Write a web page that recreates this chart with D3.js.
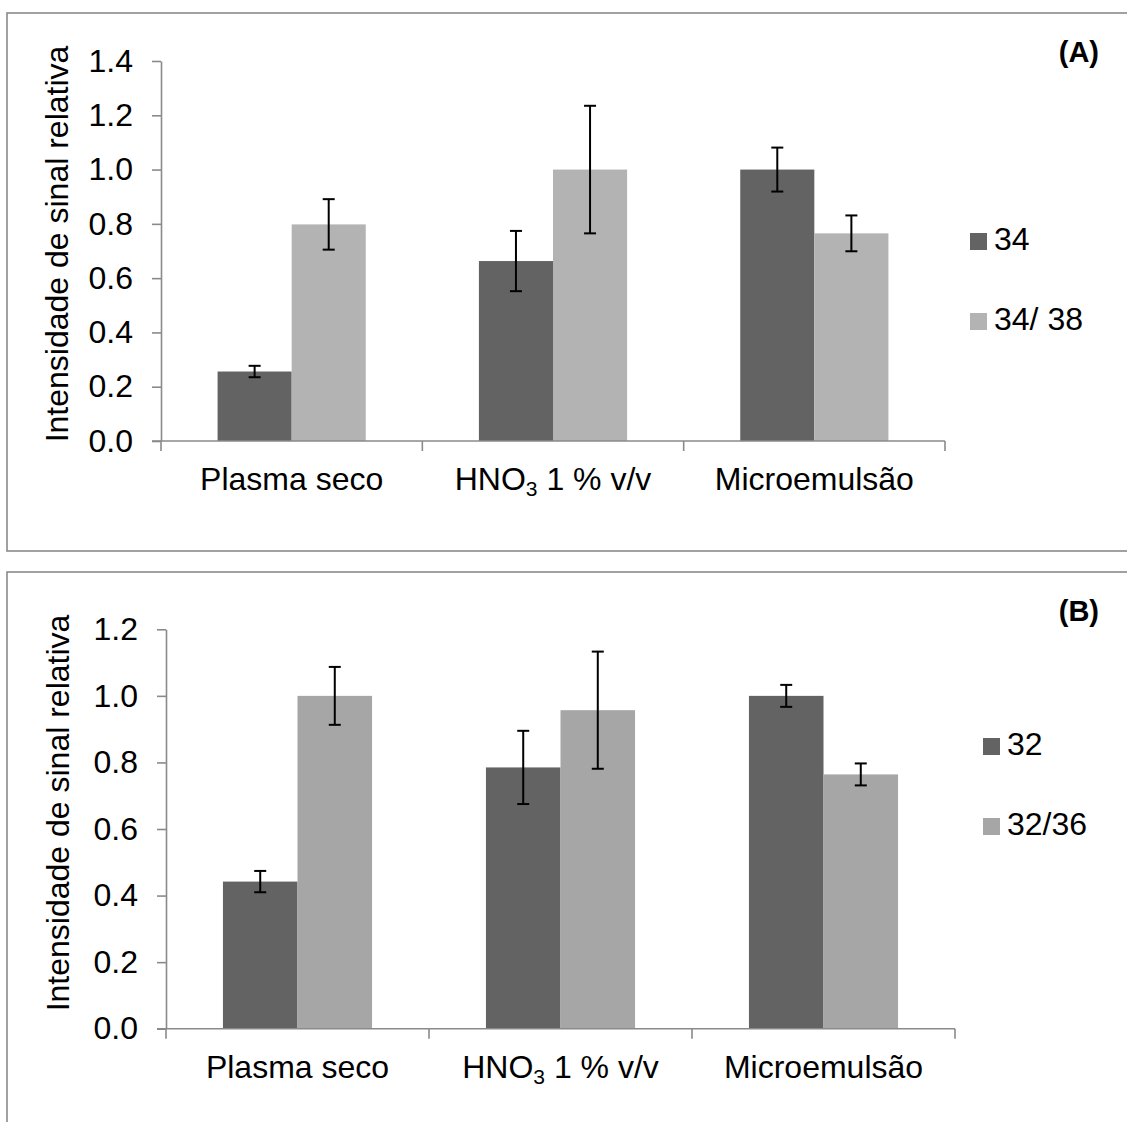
<!DOCTYPE html>
<html>
<head>
<meta charset="utf-8">
<script src="https://cdn.jsdelivr.net/npm/d3@7"></script>
<style>
  html, body { margin: 0; padding: 0; background: #fff; }
  svg { display: block; font-family: "Liberation Sans", Arial, sans-serif; }
</style>
</head>
<body>
<svg id="chart" width="1127" height="1122"></svg>
<script>
// Categories (x axis)
const categories = ["Plasma seco", "HNO3 1 % v/v", "Microemulsão"];

// Panel A: series 34 and 34/38
const seriesA = ["34", "34/ 38"];
const valuesA34 = [0.256, 0.663, 1.000];
const errA34 = [0.021, 0.111, 0.081];
const valuesA3438 = [0.798, 1.000, 0.765];
const errA3438 = [0.093, 0.235, 0.066];
const ticksA = [0.0, 0.2, 0.4, 0.6, 0.8, 1.0, 1.2, 1.4];

// Panel B: series 32 and 32/36
const seriesB = ["32", "32/36"];
const valuesB32 = [0.442, 0.785, 1.000];
const errB32 = [0.032, 0.110, 0.033];
const valuesB3236 = [1.000, 0.957, 0.764];
const errB3236 = [0.087, 0.176, 0.033];
const ticksB = [0.0, 0.2, 0.4, 0.6, 0.8, 1.0, 1.2];

const svg = d3.select("#chart");
const AXIS = "#8a8a8a";
const FONT = 32;

function drawPanel(cfg) {
  const g = svg.append("g");

  // panel frame
  g.append("rect")
    .attr("x", cfg.frame[0]).attr("y", cfg.frame[1])
    .attr("width", cfg.frame[2]).attr("height", cfg.frame[3])
    .attr("fill", "none").attr("stroke", AXIS).attr("stroke-width", 1.6);

  const y = d3.scaleLinear().domain([0, cfg.yMax]).range(cfg.yRange);
  const x = d3.scaleBand().domain(categories).range(cfg.xRange).padding(0);
  const inner = d3.scaleBand().domain(cfg.series)
    .range([x.bandwidth() * 0.2165, x.bandwidth() * 0.7835]).padding(0);

  // y axis
  const yAxis = d3.axisLeft(y).tickValues(cfg.ticks).tickFormat(d3.format(".1f"))
    .tickSize(9).tickSizeOuter(0).tickPadding(19);
  const ya = g.append("g").attr("transform", `translate(${cfg.xRange[0]},0)`).call(yAxis);
  ya.select(".domain").attr("stroke", AXIS).attr("stroke-width", 1.6);
  ya.selectAll(".tick line").attr("stroke", AXIS).attr("stroke-width", 1.6);
  ya.selectAll(".tick text").attr("font-size", FONT).attr("fill", "#000")
    .attr("font-family", "Liberation Sans, Arial, sans-serif");

  // bars
  const rows = categories.map((c, i) => ({
    cat: c,
    items: cfg.series.map((s, j) => ({ s, v: cfg.values[j][i], e: cfg.errors[j][i], color: cfg.colors[j] }))
  }));
  const grp = g.selectAll(".cat").data(rows).join("g")
    .attr("transform", d => `translate(${x(d.cat)},0)`);
  grp.selectAll("rect").data(d => d.items).join("rect")
    .attr("x", d => inner(d.s)).attr("width", inner.bandwidth())
    .attr("y", d => y(d.v)).attr("height", d => y(0) - y(d.v))
    .attr("fill", d => d.color);

  // error bars
  const eb = grp.selectAll(".err").data(d => d.items).join("g")
    .attr("transform", d => `translate(${inner(d.s) + inner.bandwidth() / 2},0)`)
    .attr("stroke", "#000").attr("stroke-width", 2);
  eb.append("line").attr("y1", d => y(d.v + d.e)).attr("y2", d => y(d.v - d.e));
  eb.append("line").attr("x1", -6).attr("x2", 6).attr("y1", d => y(d.v + d.e)).attr("y2", d => y(d.v + d.e));
  eb.append("line").attr("x1", -6).attr("x2", 6).attr("y1", d => y(d.v - d.e)).attr("y2", d => y(d.v - d.e));

  // x axis line with category separators
  const x0 = y(0);
  g.append("line").attr("x1", cfg.xRange[0] - 9).attr("x2", cfg.xRange[1])
    .attr("y1", x0).attr("y2", x0).attr("stroke", AXIS).attr("stroke-width", 1.6);
  const seps = categories.map(c => x(c)).concat([cfg.xRange[1]]);
  g.selectAll(".sep").data(seps).join("line")
    .attr("x1", d => d).attr("x2", d => d).attr("y1", x0).attr("y2", x0 + 10)
    .attr("stroke", AXIS).attr("stroke-width", 1.6);

  // category labels
  const lab = g.selectAll(".lab").data(categories).join("text")
    .attr("x", d => x(d) + x.bandwidth() / 2).attr("y", cfg.labelY)
    .attr("text-anchor", "middle").attr("font-size", FONT).attr("fill", "#000");
  lab.each(function (d) {
    const t = d3.select(this);
    if (d.startsWith("HNO3")) {
      t.append("tspan").text("HNO");
      t.append("tspan").text("3").attr("font-size", 21).attr("dy", 6);
      t.append("tspan").text(d.slice(4)).attr("dy", -6);
    } else {
      t.text(d);
    }
  });

  // y axis title
  g.append("text")
    .attr("transform", `translate(${cfg.titleX},${cfg.titleY}) rotate(-90)`)
    .attr("text-anchor", "middle").attr("font-size", FONT).attr("fill", "#000")
    .text("Intensidade de sinal relativa");

  // panel tag
  g.append("text").attr("x", 1099).attr("y", cfg.tagY)
    .attr("text-anchor", "end").attr("font-size", 29).attr("font-weight", "bold")
    .text(cfg.tag);

  // legend
  const leg = g.selectAll(".leg").data(cfg.series).join("g")
    .attr("transform", (d, i) => `translate(${cfg.legX},${cfg.legY + i * 80})`);
  leg.append("rect").attr("x", 0).attr("y", -17).attr("width", 17).attr("height", 17)
    .attr("fill", (d, i) => cfg.colors[i]);
  leg.append("text").attr("x", 24).attr("y", 0).attr("font-size", FONT).text(d => d);
}

drawPanel({
  frame: [7, 13, 1140, 538],
  series: seriesA,
  values: [valuesA34, valuesA3438],
  errors: [errA34, errA3438],
  colors: ["#636363", "#b3b3b3"],
  ticks: ticksA, yMax: 1.4,
  yRange: [441, 61], xRange: [161, 945],
  labelY: 490, titleX: 68, titleY: 244,
  tag: "(A)", tagY: 62,
  legX: 970, legY: 250
});

drawPanel({
  frame: [7, 572, 1140, 600],
  series: seriesB,
  values: [valuesB32, valuesB3236],
  errors: [errB32, errB3236],
  colors: ["#636363", "#a6a6a6"],
  ticks: ticksB, yMax: 1.2,
  yRange: [1028.7, 629.3], xRange: [166, 955],
  labelY: 1078, titleX: 69, titleY: 813,
  tag: "(B)", tagY: 621,
  legX: 983, legY: 755
});
</script>
</body>
</html>
